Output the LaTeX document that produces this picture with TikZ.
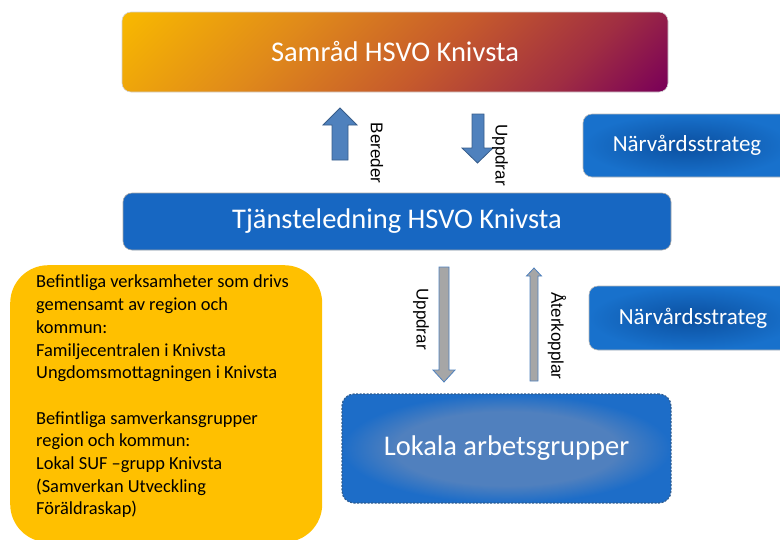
\documentclass[tikz,border=0pt]{standalone}
\usepackage{fontspec}
\setmainfont{Carlito}
\newfontfamily\labelfont{Liberation Sans}
\usetikzlibrary{positioning}

\definecolor{samA}{HTML}{F8B800}
\definecolor{samB}{HTML}{E08A1A}
\definecolor{samC}{HTML}{C65A2C}
\definecolor{samD}{HTML}{A02E42}
\definecolor{samE}{HTML}{7A0058}
\definecolor{ledblue}{HTML}{1767C2}
\definecolor{strdark}{HTML}{0B4F9F}
\definecolor{strlight}{HTML}{1871CC}
\definecolor{lokinner}{HTML}{5080BE}
\definecolor{lokouter}{HTML}{1D6DC8}
\definecolor{lokborder}{HTML}{2F5C8F}
\definecolor{arrblue}{HTML}{4F81BD}
\definecolor{arrline}{HTML}{385D8A}
\definecolor{arrgray}{HTML}{A6A6A6}
\definecolor{gul}{HTML}{FFC000}

\pgfdeclarehorizontalshading{samradfill}{100bp}{color(0bp)=(samA); color(15bp)=(samA);
  color(36bp)=(samB); color(55bp)=(samC); color(72bp)=(samD); color(85bp)=(samE); color(100bp)=(samE)}
\pgfdeclareradialshading{lokalafill}{\pgfpoint{0bp}{0bp}}{color(0bp)=(lokinner);
  color(17bp)=(lokinner); color(25bp)=(lokouter); color(50bp)=(lokouter)}

\begin{document}
\begin{tikzpicture}[x=1pt,y=-1pt,
  box/.style={rounded corners=9pt, inner sep=0pt, text=white, font=\fontsize{28.5}{30}\selectfont},
  stratbox/.style={box, inner color=strdark, outer color=strlight, draw=gray!55, line width=0.6pt,
    minimum width=208, minimum height=64, font=\fontsize{23}{25}\selectfont},
  bluearrow/.style={fill=arrblue, draw=arrline, line width=0.8pt},
  grayarrow/.style={fill=arrgray, draw=arrblue, line width=0.8pt},
  sidelabel/.style={rotate=-90, inner sep=0pt, font=\labelfont\fontsize{17}{19}\selectfont}]
  \useasboundingbox (0,0) rectangle (780,539);

  % boxes
  \node[box, shading=samradfill, shading angle=-45, draw=gray!35, line width=0.6pt,
        minimum width=546, minimum height=80] (samrad) at (395,52) {Samråd HSVO Knivsta};
  \node[box, fill=ledblue, draw=gray!70, line width=0.6pt,
        minimum width=548, minimum height=57] (tjanst) at (397,221.5) {Tjänsteledning HSVO Knivsta};
  \node[stratbox, minimum height=63] (strategA) at (687,145.5) {Närvårdsstrateg};
  \node[stratbox] (strategB) at (693,318) {Närvårdsstrateg};
  \node[box, rounded corners=12pt, shading=lokalafill,
        draw=lokborder, line width=1.2pt, dash pattern=on 2pt off 1.5pt,
        minimum width=329, minimum height=109] (lokala) at (506.5,448.5) {Lokala arbetsgrupper};

  % yellow box
  \node[fill=gul, rounded corners=38pt, minimum width=312, minimum height=277,
        anchor=north west] (gulbox) at (10,265) {};
  \node[anchor=north west, inner sep=0pt, align=left, font=\fontsize{18.4}{22.7}\selectfont]
    (befintliga) at (36,275) {Befintliga verksamheter som drivs\\
    gemensamt av region och\\
    kommun:\\
    Familjecentralen i Knivsta\\
    Ungdomsmottagningen i Knivsta\\[22.7pt]
    Befintliga samverkansgrupper\\
    region och kommun:\\
    Lokal SUF –grupp Knivsta\\
    (Samverkan Utveckling\\
    Föräldraskap)};

  % block arrows
  \draw[bluearrow] (332,160) -- (332,125) -- (323,125) -- (340,108) -- (357,125)
    -- (348,125) -- (348,160) -- cycle;
  \draw[bluearrow] (472,114) -- (484,114) -- (484,148) -- (493,148) -- (477.5,163)
    -- (462,148) -- (472,148) -- cycle;
  \draw[grayarrow] (439,267) -- (449,267) -- (449,370) -- (455,370) -- (444,382)
    -- (433,370) -- (439,370) -- cycle;
  \draw[grayarrow] (530,381) -- (530,276) -- (526.5,276) -- (534,268) -- (541.5,276)
    -- (538,276) -- (538,381) -- cycle;

  % labels
  \node[sidelabel] (bereder)   at (377,153) {Bereder};
  \node[sidelabel] (uppdragA)  at (500,155) {Uppdrar};
  \node[sidelabel] (uppdragB)  at (421,319) {Uppdrar};
  \node[sidelabel] (aterkoppl) at (557,336) {Återkopplar};
\end{tikzpicture}
\end{document}
